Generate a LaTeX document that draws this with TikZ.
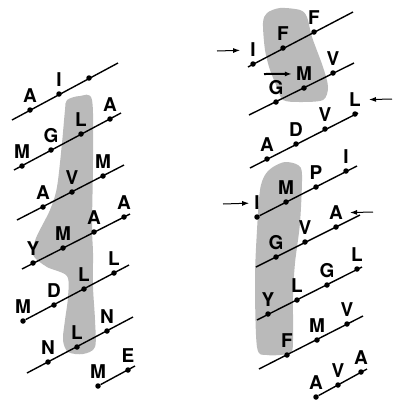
\documentclass[tikz,border=0pt]{standalone}
\usepackage{fontspec}
\setmainfont{TeX Gyre Heros}
\usetikzlibrary{positioning,arrows.meta}

\begin{document}
\begin{tikzpicture}[
  x=1pt, y=-1pt,
  node distance=4pt,
  dot/.style={circle, fill, inner sep=0pt, minimum size=5.5pt},
  res/.style={font=\fontsize{19}{19}\selectfont\bfseries, inner sep=0pt},
  helix/.style={line width=1.4pt},
  arrow/.style={-{Latex[length=7pt,width=5pt]}, line width=1pt},
  blob/.style={fill=black!27}
]
\useasboundingbox (0,0) rectangle (393,400);
% shaded patches
\fill[blob] plot[smooth cycle, tension=0.5] coordinates {(67,100) (80,96) (92,100) (93,160) (92,225) (93,253) (93,287) (95,320) (95,347) (83,354) (68,352) (63,340) (65,320) (68,297) (67,276) (47,267) (33,255) (36,238) (50,210) (57,187) (62,143) (65,110)};
\fill[blob] plot[smooth cycle, tension=0.5] coordinates {(263,23) (267,13) (280,8) (300,10) (307,17) (312,37) (323,67) (328,87) (323,100) (300,102) (283,100) (277,87) (270,70) (265,50)};
\fill[blob] plot[smooth cycle, tension=0.5] coordinates {(273,167) (285,162) (298,165) (302,175) (300,223) (295,263) (293,297) (293,340) (290,353) (267,355) (257,347) (255,280) (257,230) (260,190) (265,175)};

% left helix
\coordinate (l1s) at (12,120);  \coordinate (l1e) at (118,63);
\coordinate (l2s) at (14,170);  \coordinate (l2e) at (121,113);
\coordinate (l3s) at (17,220);  \coordinate (l3e) at (124,165);
\coordinate (l4s) at (22,269);  \coordinate (l4e) at (130,214);
\coordinate (l5e) at (129,265);
\coordinate (l6s) at (27,373);  \coordinate (l6e) at (133,317);
\coordinate (l7e) at (135,366);

\node[dot] (l1a) at (30,110) {};   \node[res, above=of l1a] (tl1a) {A};
\node[dot] (l1b) at (59,94) {};    \node[res, above=of l1b] (tl1b) {I};
\node[dot] (l1c) at (89,78) {};
\node[dot] (l2a) at (22,166) {};   \node[res, above=of l2a] (tl2a) {M};
\node[dot] (l2b) at (51,150) {};   \node[res, above=of l2b] (tl2b) {G};
\node[dot] (l2c) at (81,134) {};   \node[res, above=of l2c] (tl2c) {L};
\node[dot] (l2d) at (110,119) {};  \node[res, above=of l2d] (tl2d) {A};
\node[dot] (l3a) at (43,207) {};   \node[res, above=of l3a] (tl3a) {A};
\node[dot] (l3b) at (72,192) {};   \node[res, above=of l3b] (tl3b) {V};
\node[dot] (l3c) at (103,176) {};  \node[res, above=of l3c] (tl3c) {M};
\node[dot] (l4a) at (33,263) {};   \node[res, above=of l4a] (tl4a) {Y};
\node[dot] (l4b) at (63,248) {};   \node[res, above=of l4b] (tl4b) {M};
\node[dot] (l4c) at (94,232) {};   \node[res, above=of l4c] (tl4c) {A};
\node[dot] (l4d) at (124,217) {};  \node[res, above=of l4d] (tl4d) {A};
\node[dot] (l5a) at (23,321) {};   \node[res, above=of l5a] (tl5a) {M};
\node[dot] (l5b) at (54,305) {};   \node[res, above=of l5b] (tl5b) {D};
\node[dot] (l5c) at (84,289) {};   \node[res, above=of l5c] (tl5c) {L};
\node[dot] (l5d) at (114,273) {};  \node[res, above=of l5d] (tl5d) {L};
\node[dot] (l6a) at (48,362) {};   \node[res, above=of l6a] (tl6a) {N};
\node[dot] (l6b) at (77,347) {};   \node[res, above=of l6b] (tl6b) {L};
\node[dot] (l6c) at (107,331) {};  \node[res, above=of l6c] (tl6c) {N};
\node[dot] (l7a) at (98,386) {};   \node[res, above=of l7a] (tl7a) {M};
\node[dot] (l7b) at (128,370) {};  \node[res, above=of l7b] (tl7b) {E};

\draw[helix] (l1s) -- (l1e);
\draw[helix] (l2s) -- (l2e);
\draw[helix] (l3s) -- (l3e);
\draw[helix] (l4s) -- (l4e);
\draw[helix] (l5a) -- (l5e);
\draw[helix] (l6s) -- (l6e);
\draw[helix] (l7a) -- (l7e);

% right helix
\coordinate (r1s) at (248,67);  \coordinate (r1e) at (353,12);
\coordinate (r2s) at (249,115); \coordinate (r2e) at (354,63);
\coordinate (r3s) at (250,168); \coordinate (r3e) at (358,113);
\coordinate (r4e) at (357,166);
\coordinate (r5s) at (256,267); \coordinate (r5e) at (360,215);
\coordinate (r6s) at (257,320); \coordinate (r6e) at (362,267);
\coordinate (r7s) at (259,369); \coordinate (r7e) at (363,316);
\coordinate (r8e) at (367,369);

\node[dot] (r1a) at (253,64) {};   \node[res, above=of r1a] (tr1a) {I};
\node[dot] (r1b) at (283,48) {};   \node[res, above=of r1b] (tr1b) {F};
\node[dot] (r1c) at (314,32) {};   \node[res, above=of r1c] (tr1c) {F};
\node[dot] (r2a) at (276,102) {};  \node[res, above=of r2a] (tr2a) {G};
\node[dot] (r2b) at (304,88) {};   \node[res, above=of r2b] (tr2b) {M};
\node[dot] (r2c) at (333,73) {};   \node[res, above=of r2c] (tr2c) {V};
\node[dot] (r3a) at (267,159) {};  \node[res, above=of r3a] (tr3a) {A};
\node[dot] (r3b) at (296,144) {};  \node[res, above=of r3b] (tr3b) {D};
\node[dot] (r3c) at (325,129) {};  \node[res, above=of r3c] (tr3c) {V};
\node[dot] (r3d) at (355,114) {};  \node[res, above=of r3d] (tr3d) {L};
\node[dot] (r4a) at (257,217) {};  \node[res, above=of r4a] (tr4a) {I};
\node[dot] (r4b) at (286,202) {};  \node[res, above=of r4b] (tr4b) {M};
\node[dot] (r4c) at (316,187) {};  \node[res, above=of r4c] (tr4c) {P};
\node[dot] (r4d) at (346,171) {};  \node[res, above=of r4d] (tr4d) {I};
\node[dot] (r5a) at (276,257) {};  \node[res, above=of r5a] (tr5a) {G};
\node[dot] (r5b) at (305,242) {};  \node[res, above=of r5b] (tr5b) {V};
\node[dot] (r5c) at (336,227) {};  \node[res, above=of r5c] (tr5c) {A};
\node[dot] (r6a) at (268,314) {};  \node[res, above=of r6a] (tr6a) {Y};
\node[dot] (r6b) at (297,300) {};  \node[res, above=of r6b] (tr6b) {L};
\node[dot] (r6c) at (327,285) {};  \node[res, above=of r6c] (tr6c) {G};
\node[dot] (r6d) at (357,269) {};  \node[res, above=of r6d] (tr6d) {L};
\node[dot] (r7a) at (287,355) {};  \node[res, above=of r7a] (tr7a) {F};
\node[dot] (r7b) at (317,340) {};  \node[res, above=of r7b] (tr7b) {M};
\node[dot] (r7c) at (347,324) {};  \node[res, above=of r7c] (tr7c) {V};
\node[dot] (r8a) at (316,397) {};  \node[res, above=of r8a] (tr8a) {A};
\node[dot] (r8b) at (338,385) {};  \node[res, above=of r8b] (tr8b) {V};
\node[dot] (r8c) at (361,372) {};  \node[res, above=of r8c] (tr8c) {A};

\draw[helix] (r1s) -- (r1e);
\draw[helix] (r2s) -- (r2e);
\draw[helix] (r3s) -- (r3e);
\draw[helix] (r4a) -- (r4e);
\draw[helix] (r5s) -- (r5e);
\draw[helix] (r6s) -- (r6e);
\draw[helix] (r7s) -- (r7e);
\draw[helix] (r8a) -- (r8e);

% pointers
\coordinate (p1) at (217,51);
\coordinate (p2) at (264,74);
\coordinate (p3) at (392,99);
\coordinate (p4) at (223,204);
\coordinate (p5) at (373,212);
\draw[arrow, shorten >=10pt] (p1) -- (tr1a);
\draw[arrow, line width=2pt, shorten >=4pt] (p2) -- (tr2b);
\draw[arrow, shorten >=8pt] (p3) -- (tr3d);
\draw[arrow, shorten >=5pt] (p4) -- (tr4a);
\draw[arrow, shorten >=7pt] (p5) -- (tr5c);
\end{tikzpicture}
\end{document}
